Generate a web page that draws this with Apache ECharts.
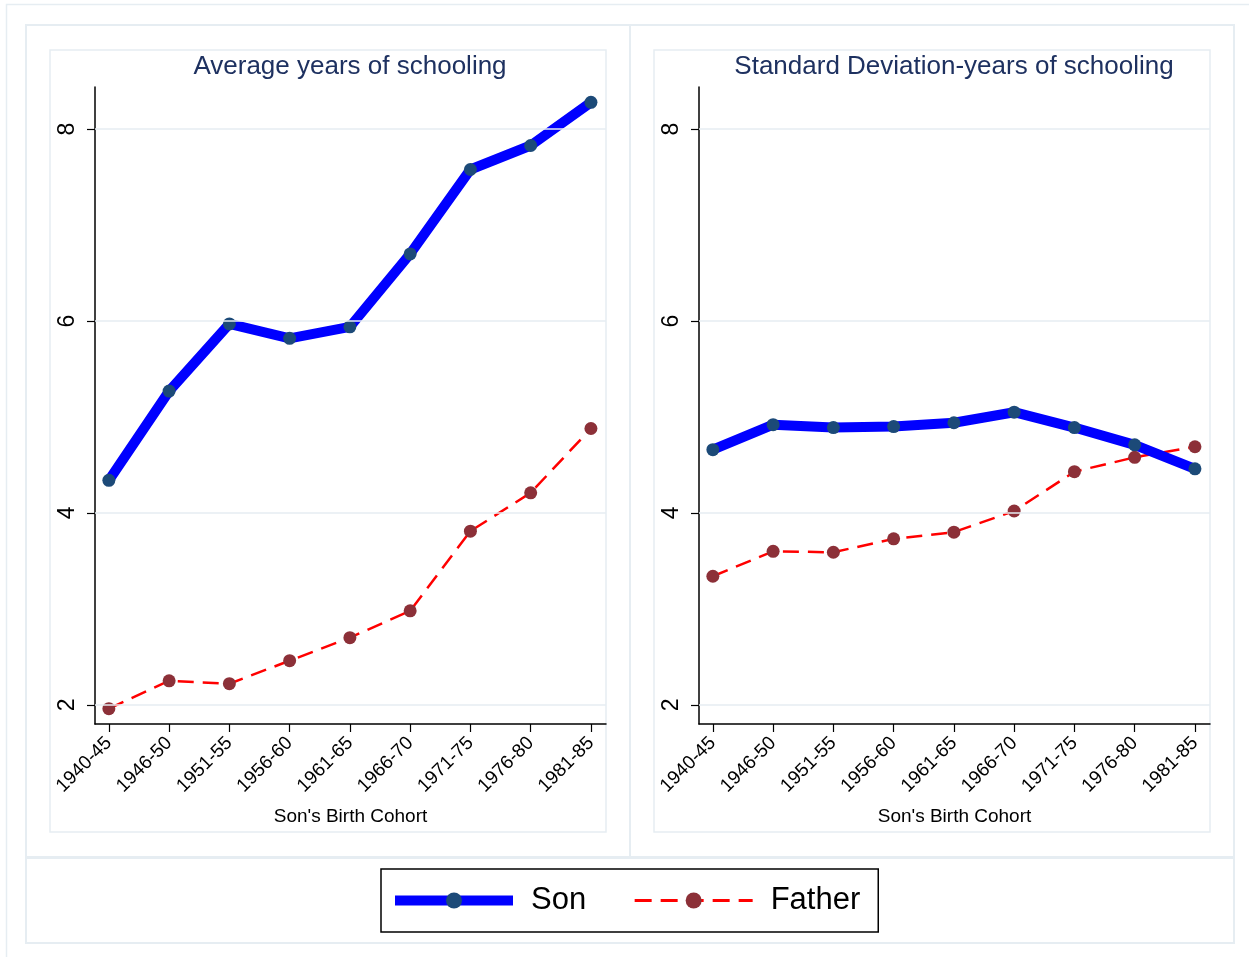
<!DOCTYPE html>
<html>
<head>
<meta charset="utf-8">
<script src="https://cdn.jsdelivr.net/npm/echarts@6/dist/echarts.min.js"></script>
<style>
html,body{margin:0;padding:0;background:#fff;}
#chart{width:1249px;height:957px;}
</style>
</head>
<body>
<div id="chart"></div>
<script>
const categories = ['1940-45','1946-50','1951-55','1956-60','1961-65','1966-70','1971-75','1976-80','1981-85'];
const yTicks = [2, 4, 6, 8];
const titles = ['Average years of schooling', 'Standard Deviation-years of schooling'];
const xAxisTitle = "Son's Birth Cohort";

const sonMean    = [4.34, 5.27, 5.97, 5.82, 5.94, 6.70, 7.58, 7.83, 8.28];
const fatherMean = [1.96, 2.25, 2.22, 2.46, 2.70, 2.98, 3.81, 4.21, 4.88];
const sonSD      = [4.66, 4.92, 4.89, 4.90, 4.94, 5.05, 4.89, 4.71, 4.46];
const fatherSD   = [3.34, 3.60, 3.59, 3.73, 3.80, 4.02, 4.43, 4.58, 4.69];

const FONT = 'Liberation Sans, Arial, Helvetica, sans-serif';
const BOX = '#e6edf2';
const idx = categories.map((c, i) => i);
const toPts = arr => arr.map((v, i) => [i, v]);

function xAxisFor(gi) {
  return {
    type: 'value', gridIndex: gi, min: -0.23, max: 8.25,
    axisLine: {show: true, onZero: false, lineStyle: {color: '#000', width: 1.5}},
    axisTick: {show: true, length: 8, customValues: idx, lineStyle: {color: '#000', width: 1.2}},
    axisLabel: {show: true, customValues: idx, rotate: 45, margin: 16, fontSize: 19, color: '#000',
      fontFamily: FONT, formatter: v => categories[Math.round(v)]},
    splitLine: {show: false},
    name: xAxisTitle, nameLocation: 'middle', nameGap: 83,
    nameTextStyle: {fontSize: 19, color: '#000', fontFamily: FONT}
  };
}
function yAxisFor(gi) {
  return {
    type: 'value', gridIndex: gi, min: 1.8, max: 8.44,
    axisLine: {show: true, onZero: false, lineStyle: {color: '#000', width: 1.5}},
    axisTick: {show: true, length: 8, customValues: yTicks, lineStyle: {color: '#000', width: 1.2}},
    axisLabel: {show: true, customValues: yTicks, rotate: 90, margin: 16, fontSize: 23, color: '#000', fontFamily: FONT},
    splitLine: {show: false}
  };
}
function gridSeries(gi) {
  return {
    type: 'line', xAxisIndex: gi, yAxisIndex: gi, data: [], z: 0, silent: true,
    markLine: {silent: true, symbol: 'none', label: {show: false},
      lineStyle: {color: BOX, width: 1.5, type: 'solid'},
      data: yTicks.map(v => ({yAxis: v}))}
  };
}
function sonSeries(gi, data) {
  return {
    name: 'Son', type: 'line', xAxisIndex: gi, yAxisIndex: gi, data: toPts(data),
    symbol: 'circle', symbolSize: 13, z: 3,
    lineStyle: {color: '#0000ff', width: 10},
    itemStyle: {color: '#1c4a78'}
  };
}
function fatherSeries(gi, data) {
  return {
    name: 'Father', type: 'line', xAxisIndex: gi, yAxisIndex: gi, data: toPts(data),
    symbol: 'circle', symbolSize: 13, z: 2,
    lineStyle: {color: '#ff0000', width: 2.5, type: [16, 9]},
    itemStyle: {color: '#8c3038'}
  };
}

const chart = echarts.init(document.getElementById('chart'), null, {renderer: 'canvas'});
chart.setOption({
  animation: false,
  backgroundColor: '#fff',
  graphic: [
    {type: 'rect', shape: {x: 6.5, y: 4.5, width: 1300, height: 1000}, style: {fill: 'none', stroke: BOX, lineWidth: 1.5}, silent: true},
    {type: 'rect', shape: {x: 26, y: 25, width: 1208, height: 832}, style: {fill: 'none', stroke: BOX, lineWidth: 2}, silent: true},
    {type: 'line', shape: {x1: 630, y1: 25, x2: 630, y2: 857}, style: {stroke: BOX, lineWidth: 2}, silent: true},
    {type: 'rect', shape: {x: 26, y: 858, width: 1208, height: 85}, style: {fill: 'none', stroke: BOX, lineWidth: 2}, silent: true},
    {type: 'rect', shape: {x: 50, y: 50, width: 556, height: 782}, style: {fill: 'none', stroke: BOX, lineWidth: 1.5}, silent: true},
    {type: 'rect', shape: {x: 654, y: 50, width: 556, height: 782}, style: {fill: 'none', stroke: BOX, lineWidth: 1.5}, silent: true}
  ],
  title: [
    {text: titles[0], left: 345, top: 49, textAlign: 'center',
      textStyle: {fontSize: 26, fontWeight: 'normal', color: '#1e3160', fontFamily: FONT}},
    {text: titles[1], left: 949, top: 49, textAlign: 'center',
      textStyle: {fontSize: 26, fontWeight: 'normal', color: '#1e3160', fontFamily: FONT}}
  ],
  grid: [
    {left: 95, right: 643, top: 87, bottom: 233},
    {left: 699, right: 39, top: 87, bottom: 233}
  ],
  xAxis: [xAxisFor(0), xAxisFor(1)],
  yAxis: [yAxisFor(0), yAxisFor(1)],
  legend: {
    data: [
      {name: 'Son', lineStyle: {width: 10, color: '#0000ff'}},
      {name: 'Father', lineStyle: {width: 3, color: '#ff0000', type: [17, 9]}}
    ],
    left: 381, top: 869,
    padding: [16, 18, 16, 9],
    borderColor: '#000', borderWidth: 1.5,
    itemWidth: 118, itemHeight: 20, itemGap: 47,
    textStyle: {fontSize: 31, color: '#000', fontFamily: FONT, padding: [0, 0, 0, 13]}
  },
  series: [
    gridSeries(0), gridSeries(1),
    sonSeries(0, sonMean), fatherSeries(0, fatherMean),
    sonSeries(1, sonSD), fatherSeries(1, fatherSD)
  ]
});
</script>
</body>
</html>
